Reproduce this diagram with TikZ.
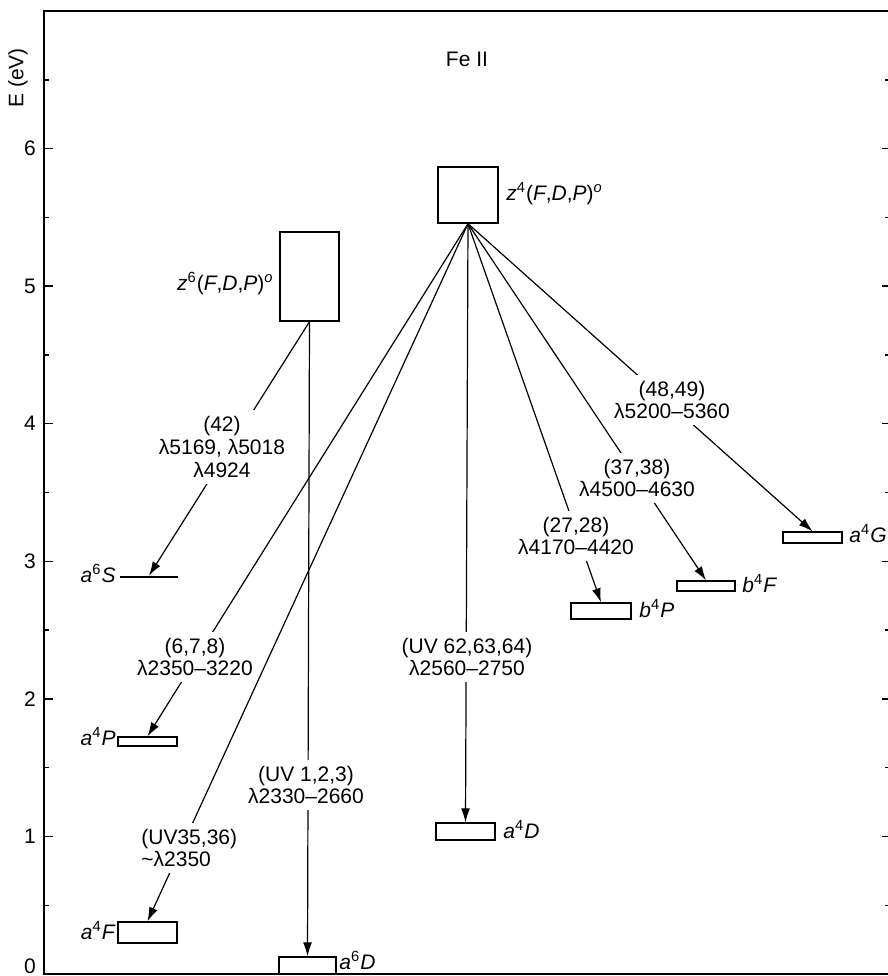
\documentclass[tikz,border=0pt]{standalone}
\usepackage{fontspec}
\setmainfont{Liberation Sans}
\usetikzlibrary{arrows.meta,fit}
\begin{document}
\begin{tikzpicture}[x=0.5pt,y=-0.5pt,
  every node/.style={font=\fontsize{10.5}{11.4}\selectfont},
  lvl/.style={draw, line width=0.7pt, inner sep=0pt, fit={#1}},
  trans/.style={line width=0.6pt, -{Latex[length=7pt,width=4.5pt]}},
  tlab/.style={fill=white, align=center, inner xsep=2pt, inner ysep=3pt},
  lab/.style={inner sep=0pt},
  frame/.style={line width=0.9pt},
  tickmark/.style={line width=0.7pt}]
\useasboundingbox (0,0) rectangle (888,976);
% frame and ticks
\draw[frame] (888,11) -- (44,11) -- (44,974) -- (888,974);
\foreach \k in {0,...,6} {
  \draw[tickmark] (44,{974-137.57*\k}) -- (53,{974-137.57*\k});
  \draw[tickmark] (882,{974-137.57*\k}) -- (888,{974-137.57*\k});
  \draw[tickmark] (44,{974-137.57*(\k+0.5)}) -- (49,{974-137.57*(\k+0.5)});
  \draw[tickmark] (885,{974-137.57*(\k+0.5)}) -- (888,{974-137.57*(\k+0.5)});
}
\foreach \k in {1,...,6} {
  \node (t\k) at (30,{974-137.57*\k}) {\k};
}
\node (t0) at (30,966) {0};
\node[rotate=90] (ylab) at (18,78) {E (eV)};
\node (title) at (467,59) {Fe II};
% levels
\node[lvl={(438,167) (498,223)}] (z4) {};
\node[lvl={(280,232) (339,321)}] (z6) {};
\node[lvl={(118,737) (177,746)}] (a4P) {};
\node[lvl={(118,922) (177,943)}] (a4F) {};
\node[lvl={(279,957) (336,974)}] (a6D) {};
\node[lvl={(436,823) (495,840)}] (a4D) {};
\node[lvl={(571,603) (631,619)}] (b4P) {};
\node[lvl={(677,581) (735,591)}] (b4F) {};
\node[lvl={(783,532) (842,543)}] (a4G) {};
\node[inner sep=0pt, fit={(120,577) (178,577)}] (a6S) {};
\draw[line width=0.7pt] (a6S.west) -- (a6S.east);
% level labels
\node[lab, anchor=base west] (z4l) at (506,200) {\textit{z}\textsuperscript{4}(\textit{F},\textit{D},\textit{P})\textsuperscript{\textit{o}}};
\node[lab, anchor=base east] (z6l) at (274,290) {\textit{z}\textsuperscript{6}(\textit{F},\textit{D},\textit{P})\textsuperscript{\textit{o}}};
\node[lab, anchor=base east] (a6Sl) at (116,582) {\textit{a}\textsuperscript{6}\textit{S}};
\node[lab, anchor=base east] (a4Pl) at (116,745) {\textit{a}\textsuperscript{4}\textit{P}};
\node[lab, anchor=base east] (a4Fl) at (116,939) {\textit{a}\textsuperscript{4}\textit{F}};
\node[lab, anchor=base west] (a6Dl) at (339,969) {\textit{a}\textsuperscript{6}\textit{D}};
\node[lab, anchor=base west] (a4Dl) at (503,838) {\textit{a}\textsuperscript{4}\textit{D}};
\node[lab, anchor=base west] (b4Pl) at (639,617) {\textit{b}\textsuperscript{4}\textit{P}};
\node[lab, anchor=base west] (b4Fl) at (742,592) {\textit{b}\textsuperscript{4}\textit{F}};
\node[lab, anchor=base west] (a4Gl) at (849,542) {\textit{a}\textsuperscript{4}\textit{G}};
% transitions
\draw[trans] (z6.south) -- (a6S.north);
\draw[trans] (z6.south) -- (a6D.north);
\draw[trans] (z4.south) -- (a4P.north);
\draw[trans] (z4.south) -- (a4F.north);
\draw[trans] (z4.south) -- (a4D.north);
\draw[trans] (z4.south) -- (b4P.north);
\draw[trans] (z4.south) -- (b4F.north);
\draw[trans] (z4.south) -- (a4G.north);
% transition labels
\node[tlab] (l42) at (222,447) {(42)\\λ5169, λ5018\\λ4924};
\node[tlab] (l678) at (195,657) {(6,7,8)\\λ2350–3220};
\node[tlab, align=left, anchor=west] (l3536) at (137,848) {(UV35,36)\\\textasciitilde λ2350};
\node[tlab] (l123) at (306,785) {(UV 1,2,3)\\λ2330–2660};
\node[tlab] (l626364) at (467,657) {(UV 62,63,64)\\λ2560–2750};
\node[tlab] (l2728) at (576,536) {(27,28)\\λ4170–4420};
\node[tlab] (l3738) at (637,478) {(37,38)\\λ4500–4630};
\node[tlab] (l4849) at (672,400) {(48,49)\\λ5200–5360};
\end{tikzpicture}
\end{document}
